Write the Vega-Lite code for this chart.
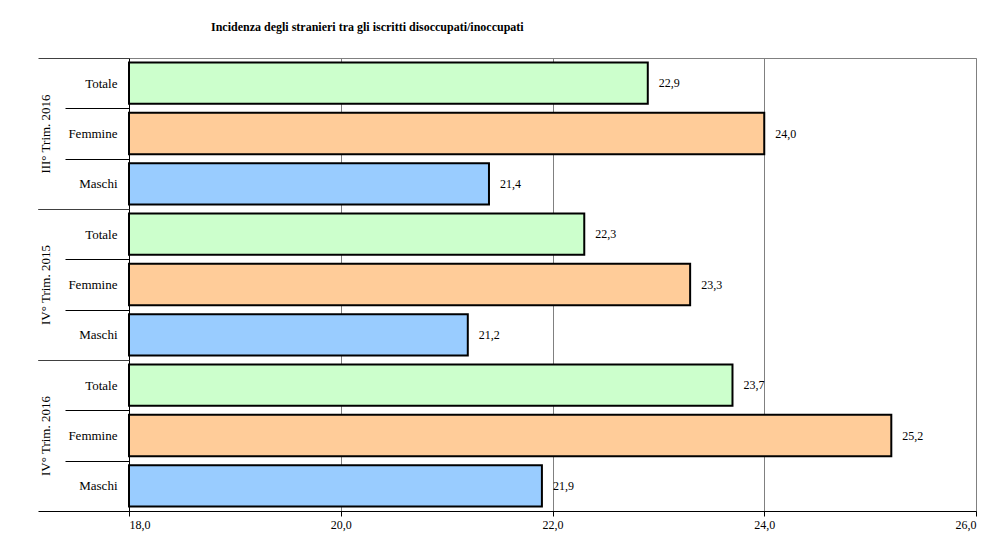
{
  "$schema": "https://vega.github.io/schema/vega-lite/v6.json",
  "width": 847,
  "height": 453,
  "autosize": "none",
  "padding": {"left": 129, "top": 58, "right": 22, "bottom": 41},
  "background": "white",
  "config": {
    "font": "Liberation Serif",
    "locale": {"number": {"decimal": ",", "thousands": ".", "grouping": [3], "currency": ["€", ""]}},
    "view": {"stroke": "#808080", "strokeWidth": 1}
  },
  "title": {
    "text": "Incidenza degli stranieri tra gli iscritti disoccupati/inoccupati",
    "font": "Liberation Serif",
    "fontSize": 12,
    "fontWeight": "bold",
    "color": "black",
    "anchor": "start",
    "frame": "group",
    "dx": 82,
    "baseline": "alphabetic",
    "offset": 15
  },
  "data": {
    "values": [
      {"periodo": "III° Trim. 2016", "sesso": "Totale", "key": "III° Trim. 2016 - Totale", "valore": 22.9},
      {"periodo": "III° Trim. 2016", "sesso": "Femmine", "key": "III° Trim. 2016 - Femmine", "valore": 24.0},
      {"periodo": "III° Trim. 2016", "sesso": "Maschi", "key": "III° Trim. 2016 - Maschi", "valore": 21.4},
      {"periodo": "IV° Trim. 2015", "sesso": "Totale", "key": "IV° Trim. 2015 - Totale", "valore": 22.3},
      {"periodo": "IV° Trim. 2015", "sesso": "Femmine", "key": "IV° Trim. 2015 - Femmine", "valore": 23.3},
      {"periodo": "IV° Trim. 2015", "sesso": "Maschi", "key": "IV° Trim. 2015 - Maschi", "valore": 21.2},
      {"periodo": "IV° Trim. 2016", "sesso": "Totale", "key": "IV° Trim. 2016 - Totale", "valore": 23.7},
      {"periodo": "IV° Trim. 2016", "sesso": "Femmine", "key": "IV° Trim. 2016 - Femmine", "valore": 25.2},
      {"periodo": "IV° Trim. 2016", "sesso": "Maschi", "key": "IV° Trim. 2016 - Maschi", "valore": 21.9}
    ]
  },
  "layer": [
    {
      "mark": {"type": "bar", "stroke": "black", "strokeWidth": 2},
      "encoding": {
        "y": {
          "field": "key", "type": "nominal", "sort": null,
          "scale": {"paddingInner": 0.18, "paddingOuter": 0.09},
          "axis": {
            "orient": "left", "title": null,
            "bandPosition": 1,
            "tickOffset": 4.53,
            "tickSize": {"condition": {"test": "isString(datum.value) && split(datum.value, ' - ')[1] == 'Maschi'", "value": 91}, "value": 64},
            "tickColor": "black", "tickWidth": 1,
            "domainColor": "black", "domainWidth": 1,
            "labelExpr": "isString(datum.value) ? split(datum.value, ' - ')[1] : ''",
            "labelOffset": -4.53,
            "labelPadding": {"condition": {"test": "isString(datum.value) && split(datum.value, ' - ')[1] == 'Maschi'", "value": -79}, "value": -52},
            "labelFontSize": 13, "labelColor": "black",
            "labelAlign": "right", "labelBaseline": "middle"
          }
        },
        "x": {
          "field": "valore", "type": "quantitative",
          "scale": {"domain": [18, 26], "zero": false, "nice": false},
          "axis": {
            "title": null, "format": ".1f", "values": [18, 20, 22, 24, 26],
            "grid": true, "gridColor": "#808080", "gridWidth": 1,
            "domainColor": "black", "domainWidth": 1,
            "tickColor": "black", "tickSize": 5,
            "labelFontSize": 12, "labelColor": "black", "labelPadding": 3
          }
        },
        "x2": {"datum": 18},
        "color": {
          "field": "sesso", "type": "nominal",
          "scale": {"domain": ["Totale", "Femmine", "Maschi"], "range": ["#CCFFCC", "#FFCC99", "#99CCFF"]},
          "legend": null
        }
      }
    },
    {
      "mark": {"type": "text", "align": "left", "baseline": "middle", "dx": 11, "fontSize": 12, "color": "black"},
      "encoding": {
        "y": {
          "field": "key", "type": "nominal", "sort": null,
          "axis": {
            "orient": "left", "title": null,
            "values": ["III° Trim. 2016 - Totale", "IV° Trim. 2015 - Totale", "IV° Trim. 2016 - Totale"],
            "bandPosition": 0,
            "tickOffset": -4.53,
            "tickSize": 91, "tickColor": "#404040", "tickWidth": 1,
            "domain": false,
            "labelExpr": "isString(datum.value) ? split(datum.value, ' - ')[0] : ''",
            "labelOffset": 54.86,
            "labelAngle": -90, "labelAlign": "center", "labelBaseline": "bottom",
            "labelFontSize": 13, "labelColor": "black", "labelPadding": -14
          }
        },
        "x": {"field": "valore", "type": "quantitative"},
        "text": {"field": "valore", "type": "quantitative", "format": ".1f"}
      }
    }
  ],
  "resolve": {"axis": {"y": "independent"}}
}
